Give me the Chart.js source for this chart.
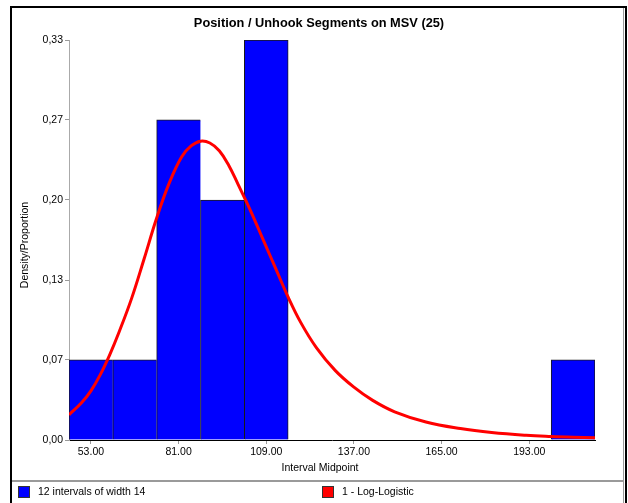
<!DOCTYPE html>
<html>
<head>
<meta charset="utf-8">
<script src="https://cdn.jsdelivr.net/npm/chart.js@4.4.1/dist/chart.umd.min.js"></script>
<style>
  html, body { margin: 0; padding: 0; background: #fff; overflow: hidden; }
  #wrap { width: 628px; height: 503px; position: relative; }
</style>
</head>
<body>
<div id="wrap"><canvas id="c" width="628" height="503"></canvas></div>
<script>
// Histogram: 12 intervals of width 14, heights as proportions
const midpoints   = [53, 67, 81, 95, 109, 123, 137, 151, 165, 179, 193, 207];
const proportions = [0.0667, 0.0667, 0.2667, 0.2, 0.3333, null, null, null, null, null, null, 0.0667];

// Fitted log-logistic curve (scaled to proportion per interval)
const fitX = [46, 50, 53, 56, 59, 62, 66, 70, 74, 78, 82, 85, 88, 91, 94, 97, 100, 104, 108, 112, 116, 120, 125, 131, 137, 143, 150, 160, 171, 181, 192, 200, 207, 214];
const fitY = [0.021, 0.031, 0.041, 0.0545, 0.071, 0.09, 0.118, 0.151, 0.185, 0.214, 0.236, 0.245, 0.249, 0.2475, 0.241, 0.229, 0.213, 0.191, 0.167, 0.143, 0.119, 0.098, 0.077, 0.058, 0.044, 0.033, 0.0235, 0.015, 0.0095, 0.0062, 0.0039, 0.0029, 0.0023, 0.0019];

// Axis ticks and range
const xTicks = [53, 81, 109, 137, 165, 193];
const yTicks = [0, 0.0667, 0.1333, 0.2, 0.2667, 0.3333];
const xRange = [46, 214];

// Texts
const chartTitle = 'Position / Unhook Segments on MSV (25)';
const xTitle = 'Interval Midpoint';
const yTitle = 'Density/Proportion';

const FONT = '"Liberation Sans", Arial, sans-serif';

const barPoints = midpoints.map((m, i) => ({ x: m, y: proportions[i] }));
const fitPoints = fitX.map((x, i) => ({ x: x, y: fitY[i] }));

// Border widths so neighbouring bars share a single 1px edge
function barBorder(ctx) {
  const i = ctx.dataIndex;
  const next = proportions[i + 1];
  const lastInRun = next === undefined || next === null;
  return { top: 1, left: 1, right: lastInRun ? 1 : 0, bottom: 0 };
}

// Frame, titles, legend separator and legend row
const framePlugin = {
  id: 'frame',
  beforeDraw(chart) {
    const c = chart.ctx;
    c.save();
    c.fillStyle = '#fff';
    c.fillRect(0, 0, chart.width, chart.height);
    c.restore();
  },
  afterDraw(chart) {
    const c = chart.ctx;
    c.save();
    // outer frame
    c.strokeStyle = '#000';
    c.lineWidth = 2;
    c.beginPath();
    c.moveTo(11, 503); c.lineTo(11, 7); c.lineTo(626, 7); c.lineTo(626, 503);
    c.stroke();
    c.strokeStyle = '#9a9a9a';
    c.lineWidth = 1;
    c.beginPath(); c.moveTo(623.5, 8); c.lineTo(623.5, 503); c.stroke();
    c.lineWidth = 2;
    c.beginPath(); c.moveTo(12, 481); c.lineTo(623, 481); c.stroke();

    // titles
    c.fillStyle = '#000';
    c.textAlign = 'center';
    c.textBaseline = 'middle';
    c.font = 'bold 12.8px ' + FONT;
    c.fillText(chartTitle, 319, 23);
    c.font = '10.5px ' + FONT;
    c.fillText(xTitle, 320, 468.5);
    c.save();
    c.translate(25, 245);
    c.rotate(-Math.PI / 2);
    c.fillText(yTitle, 0, 0);
    c.restore();

    // legend
    const items = [
      { x: 18, ds: chart.data.datasets[0], color: chart.data.datasets[0].backgroundColor },
      { x: 322, ds: chart.data.datasets[1], color: chart.data.datasets[1].borderColor }
    ];
    c.font = '10.5px ' + FONT;
    c.textAlign = 'left';
    items.forEach(it => {
      c.fillStyle = it.color;
      c.fillRect(it.x, 486, 12, 12);
      c.strokeStyle = '#333';
      c.lineWidth = 1;
      c.strokeRect(it.x + 0.5, 486.5, 11, 11);
      c.fillStyle = '#000';
      c.fillText(it.ds.label, it.x + 20, 492.5);
    });
    c.restore();
  }
};

new Chart(document.getElementById('c'), {
  type: 'bar',
  data: {
    datasets: [
      {
        type: 'bar',
        label: '12 intervals of width 14',
        data: barPoints,
        backgroundColor: '#0000ff',
        borderColor: '#1a1a1a',
        borderWidth: barBorder,
        borderSkipped: false,
        categoryPercentage: 1,
        barPercentage: 1,
        order: 2
      },
      {
        type: 'line',
        label: '1 - Log-Logistic',
        data: fitPoints,
        borderColor: '#ff0000',
        backgroundColor: '#ff0000',
        borderWidth: 3,
        pointRadius: 0,
        fill: false,
        tension: 0.4,
        order: 1
      }
    ]
  },
  options: {
    responsive: false,
    devicePixelRatio: 1,
    animation: false,
    layout: { padding: { left: 12, right: 33, top: 40, bottom: 22 } },
    plugins: {
      legend: { display: false },
      tooltip: { enabled: false },
      title: { display: false }
    },
    scales: {
      x: {
        type: 'linear',
        min: xRange[0],
        max: xRange[1],
        offset: false,
        afterBuildTicks: s => { s.ticks = xTicks.map(v => ({ value: v })); },
        afterFit: s => { s.height = 41; },
        grid: { display: true, offset: false, drawOnChartArea: false, drawTicks: true, tickLength: 4, color: '#999' },
        border: { display: true, color: '#000', width: 1 },
        ticks: {
          color: '#000',
          padding: 2,
          maxRotation: 0,
          font: { family: FONT, size: 10.5 },
          callback: v => Number(v).toFixed(2)
        },
        title: { display: false }
      },
      y: {
        type: 'linear',
        min: yTicks[0],
        max: yTicks[yTicks.length - 1],
        afterBuildTicks: s => { s.ticks = yTicks.map(v => ({ value: v })); },
        afterFit: s => { s.width = 57; },
        grid: { display: true, drawOnChartArea: false, drawTicks: true, tickLength: 4, color: '#999' },
        border: { display: true, color: '#aaa', width: 1 },
        ticks: {
          color: '#000',
          padding: 2,
          font: { family: FONT, size: 10.5 },
          callback: v => Number(v).toFixed(2).replace('.', ',')
        },
        title: { display: false }
      }
    }
  },
  plugins: [framePlugin]
});
</script>
</body>
</html>
